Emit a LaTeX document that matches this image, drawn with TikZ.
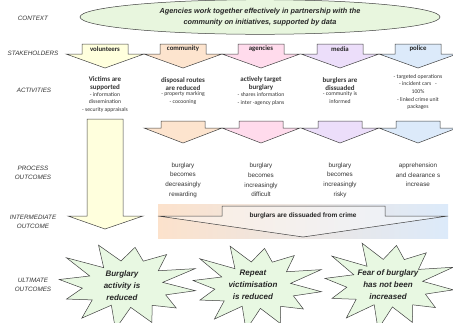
\documentclass[tikz,border=0pt]{standalone}
\usepackage{fontspec}
\setmainfont{Liberation Sans}
\newfontfamily\calfont{Carlito}
\usetikzlibrary{shapes.geometric,positioning}

\begin{document}
\begin{tikzpicture}[x=1pt, y=-1pt,
  rowlabel/.style={font=\fontsize{6.3}{9}\selectfont\itshape, text=black!80, align=center},
  arrowline/.style={draw=black!75, line width=0.5pt, line join=miter},
  boxlabel/.style={font=\calfont\fontsize{6.8}{8}\selectfont\bfseries, text=black!85},
  acthead/.style={font=\calfont\fontsize{7}{8}\selectfont\bfseries, text=black!80, align=center, inner sep=0pt},
  actsub/.style={font=\calfont\fontsize{5.7}{7.6}\selectfont, text=black!80, align=center, inner sep=0pt},
  procout/.style={font=\fontsize{6.3}{9.6}\selectfont, text=black!80, align=center, inner sep=0pt},
  ultimate/.style={font=\fontsize{8}{12}\selectfont\bfseries\itshape, text=black!85, align=center}]
  % Define colors
  \definecolor{ctxgreen}{RGB}{232,246,222}
  \definecolor{volcolor}{RGB}{255,255,221}
  \definecolor{comcolor}{RGB}{253,228,206}
  \definecolor{agecolor}{RGB}{255,219,236}
  \definecolor{medcolor}{RGB}{236,222,250}
  \definecolor{polcolor}{RGB}{220,234,250}
  \definecolor{starfill}{RGB}{232,248,226}
  \definecolor{bandleft}{RGB}{252,226,204}
  \definecolor{bandright}{RGB}{220,234,250}

  \useasboundingbox (0,0) rectangle (453,322);

  % Row labels
  \node[rowlabel] (lab-context) at (33,18) {CONTEXT};
  \node[rowlabel] (lab-stake) at (33,53) {STAKEHOLDERS};
  \node[rowlabel] (lab-act) at (34,90) {ACTIVITIES};
  \node[rowlabel] (lab-proc) at (33,173) {PROCESS\\OUTCOMES};
  \node[rowlabel] (lab-inter) at (33,222) {INTERMEDIATE\\OUTCOME};
  \node[rowlabel] (lab-ult) at (33,285) {ULTIMATE\\OUTCOMES};

  % Context ellipse
  \node[ellipse, draw=black!75, line width=0.5pt, fill=ctxgreen, minimum width=360pt, minimum height=34pt,
        font=\fontsize{7.3}{11}\selectfont\bfseries\itshape, text=black!85, align=center]
    (context) at (260,17) {Agencies work together effectively in partnership with the\\community on initiatives, supported by data};

  % Stakeholder arrows
  \foreach \cx/\col/\who in {105/volcolor/volunteers, 183/comcolor/community, 261/agecolor/agencies,
                             340/medcolor/media, 418/polcolor/police} {
    \draw[arrowline, fill=\col] (\cx-23,44) -- (\cx+23,44) -- (\cx+23,54) -- (\cx+39,54)
      -- (\cx,68) -- (\cx-39,54) -- (\cx-23,54) -- cycle;
    \node[boxlabel] (sh-\who) at (\cx,49) {\who};
  }

  % Activities
  \node[acthead] (act-vol) at (105,84) {Victims are\\supported};
  \node[actsub, below=1pt of act-vol] (sub-vol) {- information\\dissemination\\- security appraisals};
  \node[acthead] (act-com) at (183,84) {disposal routes\\are reduced};
  \node[actsub, below=1pt of act-com] (sub-com) {- property marking\\- cocooning};
  \node[acthead] (act-age) at (261,84) {actively target\\burglary};
  \node[actsub, below=1pt of act-age] (sub-age) {- shares information\\- inter -agency plans};
  \node[acthead] (act-med) at (340,84) {burglers are\\dissuaded};
  \node[actsub, below=1pt of act-med] (sub-med) {- community is\\informed};
  \node[actsub] (act-pol) at (418,92) {- targeted operations\\- incident cars \ \ -\\100\%\\- linked crime unit\\packages};

  % Second row of arrows
  \foreach \cx/\col in {183/comcolor, 261/agecolor, 340/medcolor, 418/polcolor} {
    \draw[arrowline, fill=\col] (\cx-22,121) -- (\cx+22,121) -- (\cx+22,128) -- (\cx+39,128)
      -- (\cx,143) -- (\cx-39,128) -- (\cx-22,128) -- cycle;
  }

  % Volunteers long arrow
  \draw[arrowline, fill=volcolor] (87,119) -- (123,119) -- (123,216) -- (143,216)
    -- (105,229) -- (68,216) -- (87,216) -- cycle;

  % Process outcomes
  \node[procout] (proc-com) at (183,180) {burglary\\becomes\\decreasingly\\rewarding};
  \node[procout] (proc-age) at (261,180) {burglary\\becomes\\increasingly\\difficult};
  \node[procout] (proc-med) at (340,180) {burglary\\becomes\\increasingly\\risky};
  \node[procout] (proc-pol) at (418,175) {apprehension\\and clearance s\\increase};

  % Intermediate outcome band
  \shade[left color=bandleft, right color=bandright] (158,204) rectangle (448,238);
  \draw[arrowline, left color=bandleft!60, right color=bandright!60] (222,206) -- (385,206) -- (385,216)
    -- (448,216) -- (303,237) -- (158,216) -- (222,216) -- cycle;
  \node[font=\fontsize{6.5}{8}\selectfont\bfseries, text=black!85] (inter) at (303,216)
    {burglars are dissuaded from crime};

  % Ultimate outcome stars
  \foreach \cx/\cy/\rx/\ry in {126/285/70/41, 256/286/66/41, 388/284/66/42} {
    \draw[arrowline, fill=starfill] plot[samples at={0,...,23}, variable=\k]
      ({\cx + \rx*(0.79+0.21*cos(180*\k))*(1+0.09*sin(137*\k))*cos(15*\k+8)},
       {\cy + \ry*(0.79+0.21*cos(180*\k))*(1+0.09*sin(137*\k))*sin(15*\k+8)}) -- cycle;
  }
  \node[ultimate] (ult-1) at (122,286) {Burglary\\activity is\\reduced};
  \node[ultimate] (ult-2) at (253,285) {Repeat\\victimisation\\is reduced};
  \node[ultimate] (ult-3) at (388,285) {Fear of burglary\\has not been\\increased};
\end{tikzpicture}
\end{document}
